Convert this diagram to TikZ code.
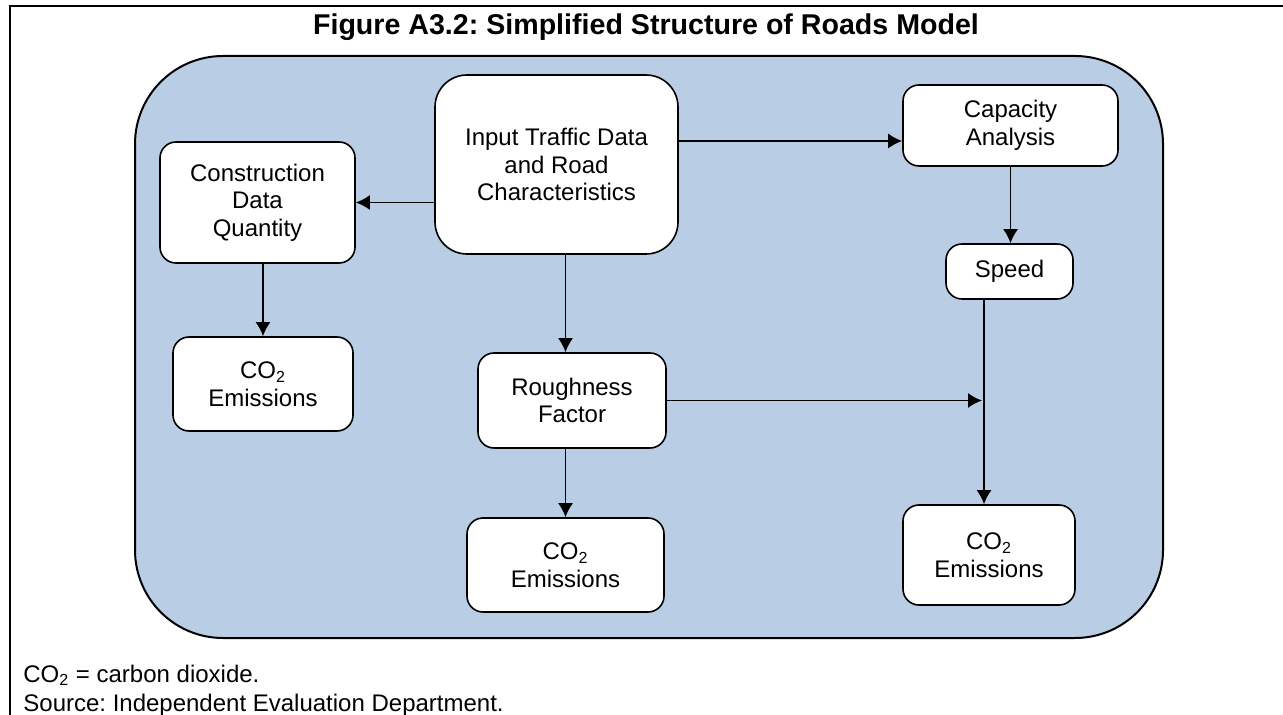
\documentclass[tikz,border=0pt]{standalone}
\usepackage{fontspec}
\setmainfont{Liberation Sans}
\frenchspacing
\usetikzlibrary{arrows.meta, positioning, calc}
\definecolor{panelblue}{HTML}{B9CDE5}
\begin{document}
\begin{tikzpicture}[x=0.5pt,y=-0.5pt]
  \tikzstyle{box} = [rectangle,rounded corners=8pt,fill=white,draw,line width=0.8pt,align=center,font=\fontsize{12}{13.8}\selectfont]
  \tikzstyle{flow} = [-{Latex[length=7pt,width=7.5pt]}, line width=0.85pt]
  \tikzstyle{note} = [anchor=base west,inner sep=0pt,font=\fontsize{12}{13.8}\selectfont]
  \useasboundingbox (0,0) rectangle (1283,715);
  \draw[line width=1pt] (10,715) -- (10,6) -- (1283,6);
  \node[anchor=base,font=\fontsize{14.3}{16}\selectfont\bfseries] (title) at (646,35) {Figure A3.2: Simplified Structure of Roads Model};
  \draw[fill=panelblue,line width=1pt,rounded corners=44pt] (135,56) rectangle (1163,638);
  \node[box,rounded corners=16pt,minimum width=121.5pt,minimum height=89.5pt] at (556.5,164.5) (inp) {Input Traffic Data\\and Road\\Characteristics};
  \node[box,minimum width=107.5pt,minimum height=40.5pt] at (1010.5,125.5) (cap) {Capacity\\Analysis};
  \node[box,minimum width=97.5pt,minimum height=60.5pt] at (257.5,202.5) (con) {Construction\\Data\\Quantity};
  \node[box,minimum width=63.5pt,minimum height=27.5pt] at (1009.5,271.5) (spd) {Speed};
  \node[box,minimum width=90pt,minimum height=47pt] at (263,384) (co2a) {CO\textsubscript{2}\\Emissions};
  \node[box,minimum width=94pt,minimum height=47.5pt] at (572,400.5) (rgh) {Roughness\\Factor};
  \node[box,minimum width=98.5pt,minimum height=47pt] at (565.5,565) (co2b) {CO\textsubscript{2}\\Emissions};
  \node[box,minimum width=86pt,minimum height=50pt] at (989,555) (co2c) {CO\textsubscript{2}\\Emissions};
  \coordinate (capin) at ([yshift=-7.75pt]cap.west);
  \coordinate (spdout) at ([xshift=-12.75pt]spd.south);
  \draw[flow] (inp.west |- con.east) -- (con.east);
  \draw[flow] (inp.east |- capin) -- (capin);
  \draw[flow] (cap.south) -- (cap.south |- spd.north);
  \draw[flow] (co2a.north |- con.south) -- (co2a.north);
  \draw[flow] (co2b.north |- inp.south) -- (co2b.north |- rgh.north);
  \draw[flow] (co2b.north |- rgh.south) -- (co2b.north);
  \draw[flow] (spdout) -- (spdout |- co2c.north);
  \draw[flow] (rgh.east) -- ([xshift=-1pt]rgh.east -| spdout);
  \node[note] (defn) at (23,682) {CO\textsubscript{2} = carbon dioxide.};
  \node[note] (source) at (23,711) {Source: Independent Evaluation Department.};
\end{tikzpicture}
\end{document}
